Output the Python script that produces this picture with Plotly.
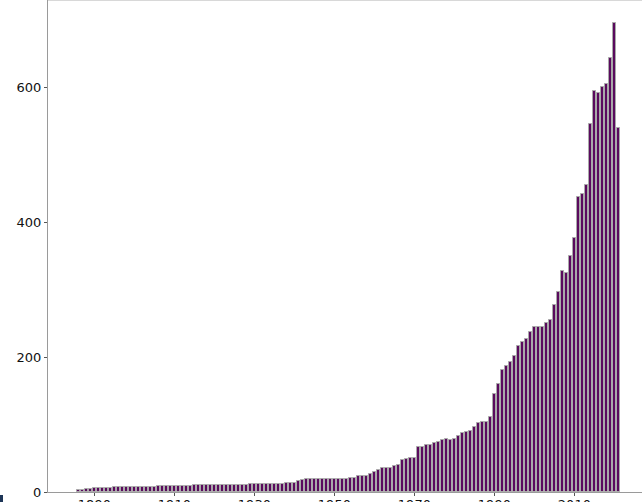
import plotly.graph_objects as go

# Yearly counts, 1886-2021
years = list(range(1886, 2022))
counts = [
    3, 3, 4, 5,                                   # 1886-1889
    6, 6, 6, 6, 6, 7, 7, 7, 7, 7,                 # 1890s
    8, 8, 8, 8, 8, 8, 9, 9, 9, 9,                 # 1900s
    9, 9, 9, 9, 9, 10, 10, 10, 10, 10,            # 1910s
    10, 10, 10, 10, 11, 11, 11, 11, 11, 12,       # 1920s
    12, 12, 12, 12, 12, 12, 12, 12, 13, 14,       # 1930s
    14, 17, 18, 19, 19, 19, 19, 19, 19, 19,       # 1940s
    19, 19, 20, 20, 21, 21, 23, 24, 24, 27,       # 1950s
    30, 32, 35, 36, 36, 38, 40, 48, 49, 50,       # 1960s
    50, 66, 66, 69, 70, 73, 74, 77, 78, 77,       # 1970s
    78, 83, 88, 89, 90, 96, 102, 104, 104, 111,   # 1980s
    145, 160, 181, 186, 192, 202, 216, 223, 227, 237,  # 1990s
    245, 245, 245, 251, 255, 277, 296, 327, 324, 350,  # 2000s
    377, 437, 441, 455, 546, 594, 591, 600, 604, 643,  # 2010s
    695, 540,                                     # 2020-2021
]
x_ticks = [1890, 1910, 1930, 1950, 1970, 1990, 2010]
y_ticks = [0, 200, 400, 600]

fig = go.Figure(
    go.Bar(
        x=years,
        y=counts,
        width=0.82,
        marker=dict(color="#5a0a5e", line=dict(color="#a9a9a9", width=1)),
    )
)

axis_common = dict(
    showgrid=False,
    zeroline=False,
    showline=True,
    linecolor="#9a9a9a",
    linewidth=1,
    ticks="outside",
    ticklen=3,
    tickcolor="#555555",
    automargin=False,
    tickfont=dict(family="DejaVu Sans", size=13, color="#111111"),
)

fig.update_xaxes(
    range=[1878.4, 2026.9],
    tickvals=x_ticks,
    ticklabelstandoff=-3,
    **axis_common,
)
fig.update_yaxes(
    range=[0, 729],
    tickvals=y_ticks,
    **axis_common,
)

# faint frame line along the top of the plot area
fig.add_shape(
    type="line", xref="paper", yref="paper",
    x0=0, x1=1, y0=1, y1=1,
    line=dict(color="#d8d8d8", width=2), layer="above",
)

# small dark block in the lower-left corner
fig.add_shape(
    type="rect", xref="paper", yref="paper",
    x0=-48 / 594, x1=-45 / 594, y0=-10 / 492, y1=-3 / 492,
    fillcolor="#1d3557", line=dict(width=0), layer="above",
)

fig.update_layout(
    width=642,
    height=502,
    margin=dict(l=48, r=0, t=0, b=10),
    plot_bgcolor="white",
    paper_bgcolor="white",
    showlegend=False,
    bargap=0,
)

fig.write_html("out.html", config={"displayModeBar": False})
